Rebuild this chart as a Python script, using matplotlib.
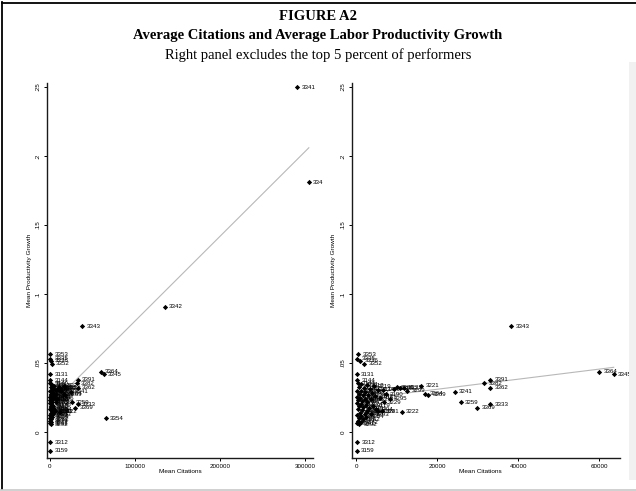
import matplotlib
matplotlib.use("Agg")
import matplotlib.pyplot as plt
from matplotlib.lines import Line2D
from matplotlib.patches import Rectangle

# industry codes, mean citations, mean labor productivity growth
codes = ["3341", "334", "3342", "3354", "3343", "3364", "3345", "3391", "3382",
         "3362", "3241", "3259", "3333", "3369", "3221", "3231", "3232", "3233",
         "3234", "3264", "3269", "3190", "3229", "3222", "3289", "3281", "3353",
         "3335", "3336", "3352", "3131", "3312", "3159", "3144",
         "3140", "3211", "3212", "3219", "3111", "3112", "3113", "3114", "3115",
         "3117", "3121", "3122", "3132", "3133", "3134", "3141", "3142", "3143",
         "3151", "3152", "3161", "3162", "3169", "3171", "3172", "3173", "3174",
         "3179", "3181", "3182", "3191", "3192", "3193", "3194", "3199", "3251",
         "3252", "3253", "3254", "3261", "3262", "3271", "3272", "3291", "3292",
         "3293", "3294", "3295", "3296", "3299"]
cites = [291000, 304500, 135300, 65900, 38200, 60000, 63500, 33000, 31500,
         33000, 24200, 25800, 33000, 29800, 16000, 10000, 10800, 11800,
         9300, 17000, 17700, 7200, 6800, 11200, 5200, 6300, 400,
         150, 900, 1900, 100, 150, 100, 200,
         300, 1200, 2600, 4300, 600, 1800, 3300, 5300, 200,
         1000, 2200, 3800, 700, 1500, 2900, 4600, 100, 900,
         2000, 3500, 5800, 400, 1300, 2600, 200, 1100, 2300,
         4000, 600, 1700, 3100, 300, 1400, 2700, 800, 2000,
         150, 1200, 2400, 500, 1600, 300, 1000, 200, 700,
         3600, 4800, 8200, 6500, 12500]
growth = [0.250, 0.181, 0.0906, 0.0101, 0.0768, 0.0435, 0.0420, 0.0380, 0.0355,
          0.0320, 0.0290, 0.0217, 0.0200, 0.0174, 0.0335, 0.0325, 0.0318, 0.0322,
          0.0312, 0.0278, 0.0270, 0.0275, 0.0217, 0.0148, 0.0150, 0.0152, 0.0565,
          0.0530, 0.0515, 0.0493, 0.0420, -0.0075, -0.0135, 0.0375,
          0.0355, 0.0345, 0.0340, 0.0332, 0.0325, 0.0318, 0.0310, 0.0305, 0.0300,
          0.0295, 0.0290, 0.0285, 0.0278, 0.0270, 0.0265, 0.0258, 0.0255, 0.0248,
          0.0242, 0.0238, 0.0250, 0.0232, 0.0225, 0.0220, 0.0212, 0.0205, 0.0198,
          0.0192, 0.0185, 0.0178, 0.0172, 0.0165, 0.0158, 0.0150, 0.0140, 0.0132,
          0.0125, 0.0118, 0.0110, 0.0100, 0.0092, 0.0082, 0.0072, 0.0062, 0.0055,
          0.0128, 0.0165, 0.0240, 0.0305, 0.0300]
top_performers = ["3341", "334", "3342", "3354"]

# linear fits (intercept, slope per citation)
fit_all = (0.0190, 6.14e-7)
fit_trim = (0.0237, 3.65e-7)

ytick_vals = [0, 0.05, 0.10, 0.15, 0.20, 0.25]
ytick_txt = ["0", ".05", ".1", ".15", ".2", ".25"]
xticks_all = [0, 100000, 200000, 300000]
xticks_trim = [0, 20000, 40000, 60000]

W, H = 636, 491
fig = plt.figure(figsize=(W / 100, H / 100), dpi=100)
fig.patch.set_facecolor("white")
SANS = ["Liberation Sans", "DejaVu Sans"]
SERIF = ["Liberation Serif", "DejaVu Serif"]


def px_axes(x0, x1, ytop, ybot):
    return fig.add_axes([x0 / W, 1 - ybot / H, (x1 - x0) / W, (ybot - ytop) / H])


def panel(ax, xs, ys, labs, fit, xticks, xlim, ylim, xlab_x):
    ax.set_xlim(*xlim)
    ax.set_ylim(*ylim)
    for s in ("top", "right"):
        ax.spines[s].set_visible(False)
    for s in ("left", "bottom"):
        ax.spines[s].set_linewidth(1.0)
        ax.spines[s].set_color("#1a1a1a")
    b0, b1 = fit
    xa, xb = min(xs), max(xs)
    ax.plot([xa, xb], [b0 + b1 * xa, b0 + b1 * xb], color="#b8b8b8", lw=0.8, zorder=1)
    ax.plot(xs, ys, ls="none", marker="D", ms=2.7, color="black", mew=0, zorder=3)
    for x, y, t in zip(xs, ys, labs):
        ax.annotate(t, (x, y), xytext=(3, 0), textcoords="offset points",
                    va="center", ha="left", fontsize=4.4, family=SANS, zorder=4)
    ax.set_yticks(ytick_vals)
    ax.set_yticklabels(ytick_txt)
    ax.set_xticks(xticks)
    ax.set_xticklabels([str(v) for v in xticks])
    ax.tick_params(axis="y", direction="out", length=2.3, width=0.7, pad=2.5,
                   labelsize=4.5, labelrotation=90)
    ax.tick_params(axis="x", direction="out", length=2.3, width=0.7, pad=1.8,
                   labelsize=4.5)
    for lb in ax.get_yticklabels() + ax.get_xticklabels():
        lb.set_family(SANS)
    for lb in ax.get_yticklabels():
        lb.set_va("center")
    ax.set_ylabel("Mean Productivity Growth", fontsize=4.6, family=SANS)
    ax.yaxis.set_label_coords(-0.058, 0.5)
    ax.set_xlabel("Mean Citations", fontsize=4.6, family=SANS)
    ax.xaxis.set_label_coords(xlab_x, -0.03)
    ax.patch.set_alpha(0)


ylim = (-0.01884, 0.2529)

axL = px_axes(47, 313, 83, 458)
panel(axL, cites, growth, codes, fit_all, xticks_all, (-3529, 309400), ylim, 0.5)

keep = [i for i, c in enumerate(codes) if c not in top_performers]
axR = px_axes(352, 620, 83, 458)
panel(axR, [cites[i] for i in keep], [growth[i] for i in keep],
      [codes[i] for i in keep], fit_trim, xticks_trim, (-1111, 65062), ylim, 0.478)

# titles
fig.text(0.5, 1 - 16 / H, "FIGURE A2", ha="center", va="center", fontsize=10.5,
         fontweight="bold", family=SERIF)
fig.text(0.5, 1 - 36 / H, "Average Citations and Average Labor Productivity Growth",
         ha="center", va="center", fontsize=10.5, fontweight="bold", family=SERIF)
fig.text(0.5, 1 - 55 / H, "Right panel excludes the top 5 percent of performers",
         ha="center", va="center", fontsize=10.5, family=SERIF)

# page frame
fig.add_artist(Line2D([1.5 / W, 1.5 / W], [1 - 489 / H, 1 - 2 / H], color="black", lw=1.3))
fig.add_artist(Line2D([1.5 / W, 1.0], [1 - 2.5 / H, 1 - 2.5 / H], color="black", lw=1.3))
fig.add_artist(Line2D([0, 1.0], [1 - 489.5 / H, 1 - 489.5 / H], color="#c8c8c8", lw=1.2))
fig.add_artist(Rectangle((629 / W, 1 - 480 / H), 7 / W, 418 / H, transform=fig.transFigure,
                         facecolor="#f1f1f1", edgecolor="none"))

fig.savefig("out.png", dpi=100, facecolor="white")
